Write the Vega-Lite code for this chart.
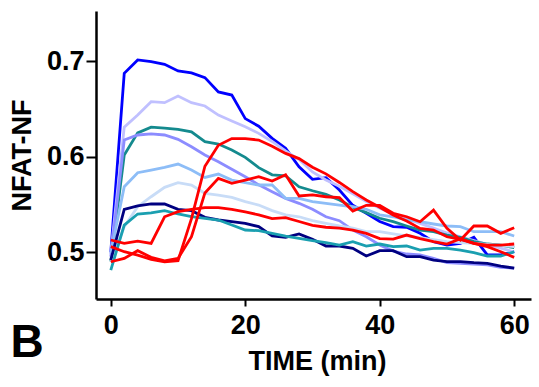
{
  "$schema": "https://vega.github.io/schema/vega-lite/v6.json",
  "autosize": "none",
  "width": 435,
  "height": 288,
  "padding": {"left": 96, "top": 11, "right": 8, "bottom": 88},
  "background": "white",
  "config": {"view": {"stroke": null}},
  "title": {"text": "B", "orient": "bottom", "anchor": "start", "font": "Liberation Sans", "fontSize": 46, "fontWeight": "bold", "color": "black", "dx": 2, "offset": -53},
  "data": {"values": [
{"s":"a1","t":0,"v":0.500},{"s":"a1","t":2,"v":0.6875},{"s":"a1","t":4,"v":0.7015},{"s":"a1","t":6,"v":0.6997},{"s":"a1","t":8,"v":0.697},{"s":"a1","t":10,"v":0.690},{"s":"a1","t":12,"v":0.688},{"s":"a1","t":14,"v":0.683},{"s":"a1","t":16,"v":0.668},{"s":"a1","t":18,"v":0.6647},{"s":"a1","t":20,"v":0.640},{"s":"a1","t":22,"v":0.632},{"s":"a1","t":24,"v":0.6193},{"s":"a1","t":26,"v":0.6088},{"s":"a1","t":28,"v":0.5895},{"s":"a1","t":30,"v":0.5763},{"s":"a1","t":32,"v":0.578},{"s":"a1","t":34,"v":0.565},{"s":"a1","t":36,"v":0.549},{"s":"a1","t":38,"v":0.5406},{"s":"a1","t":40,"v":0.532},{"s":"a1","t":42,"v":0.5266},{"s":"a1","t":44,"v":0.526},{"s":"a1","t":46,"v":0.5196},{"s":"a1","t":48,"v":0.5108},{"s":"a1","t":50,"v":0.5073},{"s":"a1","t":52,"v":0.509},{"s":"a1","t":54,"v":0.5154},{"s":"a1","t":56,"v":0.4969},{"s":"a1","t":58,"v":0.4969},{"s":"a1","t":60,"v":0.5003},
{"s":"a2","t":0,"v":0.498},{"s":"a2","t":2,"v":0.631},{"s":"a2","t":4,"v":0.6437},{"s":"a2","t":6,"v":0.6577},{"s":"a2","t":8,"v":0.6567},{"s":"a2","t":10,"v":0.6637},{"s":"a2","t":12,"v":0.6567},{"s":"a2","t":14,"v":0.6532},{"s":"a2","t":16,"v":0.6437},{"s":"a2","t":18,"v":0.6375},{"s":"a2","t":20,"v":0.6315},{"s":"a2","t":22,"v":0.6245},{"s":"a2","t":24,"v":0.616},{"s":"a2","t":26,"v":0.606},{"s":"a2","t":28,"v":0.597},{"s":"a2","t":30,"v":0.584},{"s":"a2","t":32,"v":0.5755},{"s":"a2","t":34,"v":0.569},{"s":"a2","t":36,"v":0.561},{"s":"a2","t":38,"v":0.553},{"s":"a2","t":40,"v":0.546},{"s":"a2","t":42,"v":0.540},{"s":"a2","t":44,"v":0.535},{"s":"a2","t":46,"v":0.530},{"s":"a2","t":48,"v":0.525},{"s":"a2","t":50,"v":0.520},{"s":"a2","t":52,"v":0.516},{"s":"a2","t":54,"v":0.512},{"s":"a2","t":56,"v":0.508},{"s":"a2","t":58,"v":0.504},{"s":"a2","t":60,"v":0.500},
{"s":"a3","t":0,"v":0.490},{"s":"a3","t":2,"v":0.6018},{"s":"a3","t":4,"v":0.625},{"s":"a3","t":6,"v":0.631},{"s":"a3","t":8,"v":0.630},{"s":"a3","t":10,"v":0.6287},{"s":"a3","t":12,"v":0.626},{"s":"a3","t":14,"v":0.6157},{"s":"a3","t":16,"v":0.6133},{"s":"a3","t":18,"v":0.607},{"s":"a3","t":20,"v":0.5993},{"s":"a3","t":22,"v":0.5885},{"s":"a3","t":24,"v":0.581},{"s":"a3","t":26,"v":0.580},{"s":"a3","t":28,"v":0.5685},{"s":"a3","t":30,"v":0.5643},{"s":"a3","t":32,"v":0.5605},{"s":"a3","t":34,"v":0.5546},{"s":"a3","t":36,"v":0.547},{"s":"a3","t":38,"v":0.5413},{"s":"a3","t":40,"v":0.5354},{"s":"a3","t":42,"v":0.5318},{"s":"a3","t":44,"v":0.5273},{"s":"a3","t":46,"v":0.523},{"s":"a3","t":48,"v":0.5213},{"s":"a3","t":50,"v":0.5178},{"s":"a3","t":52,"v":0.5154},{"s":"a3","t":54,"v":0.511},{"s":"a3","t":56,"v":0.5084},{"s":"a3","t":58,"v":0.5073},{"s":"a3","t":60,"v":0.5045},
{"s":"a4","t":0,"v":0.495},{"s":"a4","t":2,"v":0.6175},{"s":"a4","t":4,"v":0.6228},{"s":"a4","t":6,"v":0.624},{"s":"a4","t":8,"v":0.6228},{"s":"a4","t":10,"v":0.6182},{"s":"a4","t":12,"v":0.6105},{"s":"a4","t":14,"v":0.6018},{"s":"a4","t":16,"v":0.5948},{"s":"a4","t":18,"v":0.5868},{"s":"a4","t":20,"v":0.579},{"s":"a4","t":22,"v":0.5705},{"s":"a4","t":24,"v":0.5633},{"s":"a4","t":26,"v":0.5563},{"s":"a4","t":28,"v":0.5511},{"s":"a4","t":30,"v":0.5448},{"s":"a4","t":32,"v":0.5370},{"s":"a4","t":34,"v":0.5329},{"s":"a4","t":36,"v":0.523},{"s":"a4","t":38,"v":0.516},{"s":"a4","t":40,"v":0.5073},{"s":"a4","t":42,"v":0.501},{"s":"a4","t":44,"v":0.4979},{"s":"a4","t":46,"v":0.4969},{"s":"a4","t":48,"v":0.4933},{"s":"a4","t":50,"v":0.4888},{"s":"a4","t":52,"v":0.4881},{"s":"a4","t":54,"v":0.4874},{"s":"a4","t":56,"v":0.4864},{"s":"a4","t":58,"v":0.484},{"s":"a4","t":60,"v":0.483},
{"s":"a5","t":0,"v":0.499},{"s":"a5","t":2,"v":0.5685},{"s":"a5","t":4,"v":0.5832},{"s":"a5","t":6,"v":0.586},{"s":"a5","t":8,"v":0.5889},{"s":"a5","t":10,"v":0.5923},{"s":"a5","t":12,"v":0.586},{"s":"a5","t":14,"v":0.5783},{"s":"a5","t":16,"v":0.5818},{"s":"a5","t":18,"v":0.5755},{"s":"a5","t":20,"v":0.5727},{"s":"a5","t":22,"v":0.5703},{"s":"a5","t":24,"v":0.5703},{"s":"a5","t":26,"v":0.5563},{"s":"a5","t":28,"v":0.5563},{"s":"a5","t":30,"v":0.5528},{"s":"a5","t":32,"v":0.551},{"s":"a5","t":34,"v":0.5493},{"s":"a5","t":36,"v":0.5475},{"s":"a5","t":38,"v":0.5448},{"s":"a5","t":40,"v":0.539},{"s":"a5","t":42,"v":0.537},{"s":"a5","t":44,"v":0.5336},{"s":"a5","t":46,"v":0.5318},{"s":"a5","t":48,"v":0.5294},{"s":"a5","t":50,"v":0.5273},{"s":"a5","t":52,"v":0.5266},{"s":"a5","t":54,"v":0.5213},{"s":"a5","t":56,"v":0.5213},{"s":"a5","t":58,"v":0.5213},{"s":"a5","t":60,"v":0.5168},
{"s":"a6","t":0,"v":0.490},{"s":"a6","t":2,"v":0.5266},{"s":"a6","t":4,"v":0.5476},{"s":"a6","t":6,"v":0.558},{"s":"a6","t":8,"v":0.5679},{"s":"a6","t":10,"v":0.5727},{"s":"a6","t":12,"v":0.5703},{"s":"a6","t":14,"v":0.5616},{"s":"a6","t":16,"v":0.5598},{"s":"a6","t":18,"v":0.5574},{"s":"a6","t":20,"v":0.5528},{"s":"a6","t":22,"v":0.5493},{"s":"a6","t":24,"v":0.5434},{"s":"a6","t":26,"v":0.539},{"s":"a6","t":28,"v":0.537},{"s":"a6","t":30,"v":0.533},{"s":"a6","t":32,"v":0.530},{"s":"a6","t":34,"v":0.5273},{"s":"a6","t":36,"v":0.525},{"s":"a6","t":38,"v":0.5213},{"s":"a6","t":40,"v":0.5213},{"s":"a6","t":42,"v":0.519},{"s":"a6","t":44,"v":0.517},{"s":"a6","t":46,"v":0.515},{"s":"a6","t":48,"v":0.513},{"s":"a6","t":50,"v":0.511},{"s":"a6","t":52,"v":0.510},{"s":"a6","t":54,"v":0.509},{"s":"a6","t":56,"v":0.508},{"s":"a6","t":58,"v":0.507},{"s":"a6","t":60,"v":0.5056},
{"s":"a7","t":0,"v":0.4916},{"s":"a7","t":2,"v":0.5448},{"s":"a7","t":4,"v":0.5483},{"s":"a7","t":6,"v":0.5504},{"s":"a7","t":8,"v":0.5504},{"s":"a7","t":10,"v":0.5448},{"s":"a7","t":12,"v":0.5434},{"s":"a7","t":14,"v":0.5364},{"s":"a7","t":16,"v":0.5336},{"s":"a7","t":18,"v":0.532},{"s":"a7","t":20,"v":0.530},{"s":"a7","t":22,"v":0.5266},{"s":"a7","t":24,"v":0.5168},{"s":"a7","t":26,"v":0.5154},{"s":"a7","t":28,"v":0.5189},{"s":"a7","t":30,"v":0.5133},{"s":"a7","t":32,"v":0.5063},{"s":"a7","t":34,"v":0.5063},{"s":"a7","t":36,"v":0.5039},{"s":"a7","t":38,"v":0.4958},{"s":"a7","t":40,"v":0.5014},{"s":"a7","t":42,"v":0.5014},{"s":"a7","t":44,"v":0.4951},{"s":"a7","t":46,"v":0.4951},{"s":"a7","t":48,"v":0.4916},{"s":"a7","t":50,"v":0.490},{"s":"a7","t":52,"v":0.490},{"s":"a7","t":54,"v":0.4888},{"s":"a7","t":56,"v":0.4881},{"s":"a7","t":58,"v":0.4853},{"s":"a7","t":60,"v":0.483},
{"s":"a8","t":0,"v":0.481},{"s":"a8","t":2,"v":0.5283},{"s":"a8","t":4,"v":0.5399},{"s":"a8","t":6,"v":0.541},{"s":"a8","t":8,"v":0.5434},{"s":"a8","t":10,"v":0.5399},{"s":"a8","t":12,"v":0.5371},{"s":"a8","t":14,"v":0.5353},{"s":"a8","t":16,"v":0.5336},{"s":"a8","t":18,"v":0.5283},{"s":"a8","t":20,"v":0.5231},{"s":"a8","t":22,"v":0.5224},{"s":"a8","t":24,"v":0.5196},{"s":"a8","t":26,"v":0.5168},{"s":"a8","t":28,"v":0.5144},{"s":"a8","t":30,"v":0.5119},{"s":"a8","t":32,"v":0.5098},{"s":"a8","t":34,"v":0.5073},{"s":"a8","t":36,"v":0.5108},{"s":"a8","t":38,"v":0.5063},{"s":"a8","t":40,"v":0.5084},{"s":"a8","t":42,"v":0.5056},{"s":"a8","t":44,"v":0.5063},{"s":"a8","t":46,"v":0.502},{"s":"a8","t":48,"v":0.5038},{"s":"a8","t":50,"v":0.5038},{"s":"a8","t":52,"v":0.502},{"s":"a8","t":54,"v":0.4993},{"s":"a8","t":56,"v":0.4958},{"s":"a8","t":58,"v":0.4958},{"s":"a8","t":60,"v":0.5003},
{"s":"r1","t":0,"v":0.5126},{"s":"r1","t":2,"v":0.509},{"s":"r1","t":4,"v":0.5115},{"s":"r1","t":6,"v":0.509},{"s":"r1","t":8,"v":0.537},{"s":"r1","t":10,"v":0.5423},{"s":"r1","t":12,"v":0.5448},{"s":"r1","t":14,"v":0.5465},{"s":"r1","t":16,"v":0.5465},{"s":"r1","t":18,"v":0.5448},{"s":"r1","t":20,"v":0.542},{"s":"r1","t":22,"v":0.539},{"s":"r1","t":24,"v":0.535},{"s":"r1","t":26,"v":0.536},{"s":"r1","t":28,"v":0.532},{"s":"r1","t":30,"v":0.528},{"s":"r1","t":32,"v":0.526},{"s":"r1","t":34,"v":0.525},{"s":"r1","t":36,"v":0.523},{"s":"r1","t":38,"v":0.5196},{"s":"r1","t":40,"v":0.514},{"s":"r1","t":42,"v":0.5135},{"s":"r1","t":44,"v":0.5178},{"s":"r1","t":46,"v":0.514},{"s":"r1","t":48,"v":0.5108},{"s":"r1","t":50,"v":0.5084},{"s":"r1","t":52,"v":0.514},{"s":"r1","t":54,"v":0.509},{"s":"r1","t":56,"v":0.5073},{"s":"r1","t":58,"v":0.5073},{"s":"r1","t":60,"v":0.5084},
{"s":"r2","t":0,"v":0.5056},{"s":"r2","t":2,"v":0.5003},{"s":"r2","t":4,"v":0.4968},{"s":"r2","t":6,"v":0.4923},{"s":"r2","t":8,"v":0.4898},{"s":"r2","t":10,"v":0.4909},{"s":"r2","t":12,"v":0.535},{"s":"r2","t":14,"v":0.590},{"s":"r2","t":16,"v":0.612},{"s":"r2","t":18,"v":0.619},{"s":"r2","t":20,"v":0.619},{"s":"r2","t":22,"v":0.6175},{"s":"r2","t":24,"v":0.611},{"s":"r2","t":26,"v":0.6035},{"s":"r2","t":28,"v":0.598},{"s":"r2","t":30,"v":0.589},{"s":"r2","t":32,"v":0.582},{"s":"r2","t":34,"v":0.573},{"s":"r2","t":36,"v":0.5633},{"s":"r2","t":38,"v":0.5546},{"s":"r2","t":40,"v":0.547},{"s":"r2","t":42,"v":0.5388},{"s":"r2","t":44,"v":0.5325},{"s":"r2","t":46,"v":0.5248},{"s":"r2","t":48,"v":0.523},{"s":"r2","t":50,"v":0.516},{"s":"r2","t":52,"v":0.5133},{"s":"r2","t":54,"v":0.509},{"s":"r2","t":56,"v":0.5056},{"s":"r2","t":58,"v":0.5003},{"s":"r2","t":60,"v":0.4944},
{"s":"r3","t":0,"v":0.4898},{"s":"r3","t":2,"v":0.4933},{"s":"r3","t":4,"v":0.5014},{"s":"r3","t":6,"v":0.4944},{"s":"r3","t":8,"v":0.4906},{"s":"r3","t":10,"v":0.4933},{"s":"r3","t":12,"v":0.516},{"s":"r3","t":14,"v":0.562},{"s":"r3","t":16,"v":0.5773},{"s":"r3","t":18,"v":0.572},{"s":"r3","t":20,"v":0.5755},{"s":"r3","t":22,"v":0.579},{"s":"r3","t":24,"v":0.5745},{"s":"r3","t":26,"v":0.581},{"s":"r3","t":28,"v":0.5588},{"s":"r3","t":30,"v":0.560},{"s":"r3","t":32,"v":0.558},{"s":"r3","t":34,"v":0.557},{"s":"r3","t":36,"v":0.543},{"s":"r3","t":38,"v":0.549},{"s":"r3","t":40,"v":0.549},{"s":"r3","t":42,"v":0.5406},{"s":"r3","t":44,"v":0.537},{"s":"r3","t":46,"v":0.5318},{"s":"r3","t":48,"v":0.544},{"s":"r3","t":50,"v":0.5248},{"s":"r3","t":52,"v":0.5126},{"s":"r3","t":54,"v":0.5273},{"s":"r3","t":56,"v":0.5273},{"s":"r3","t":58,"v":0.5196},{"s":"r3","t":60,"v":0.5255}
  ]},
  "mark": {"type": "line", "strokeWidth": 2.8},
  "encoding": {
    "x": {"field": "t", "type": "quantitative",
      "scale": {"domain": [-2.2, 62.5], "nice": false, "zero": false},
      "axis": {"title": "TIME (min)", "values": [0, 20, 40, 60], "grid": false,
        "domainColor": "black", "domainWidth": 2.5, "tickColor": "black", "tickWidth": 2, "tickSize": 7,
        "labelFont": "Liberation Sans", "labelFontSize": 27, "labelFontWeight": "bold", "labelColor": "black", "labelPadding": 6, "labelFlush": false,
        "titleFont": "Liberation Sans", "titleFontSize": 27, "titleFontWeight": "bold", "titleColor": "black", "titlePadding": 10, "titleX": 221}},
    "y": {"field": "v", "type": "quantitative",
      "scale": {"domain": [0.4507, 0.7529], "nice": false, "zero": false},
      "axis": {"title": "NFAT-NF", "values": [0.5, 0.6, 0.7], "format": ".1f", "grid": false,
        "domainColor": "black", "domainWidth": 2.5, "tickColor": "black", "tickWidth": 2, "tickSize": 10,
        "labelFont": "Liberation Sans", "labelFontSize": 27, "labelFontWeight": "bold", "labelColor": "black", "labelPadding": 2, "labelFlush": false,
        "titleFont": "Liberation Sans", "titleFontSize": 27, "titleFontWeight": "bold", "titleColor": "black", "titlePadding": 10}},
    "color": {"field": "s", "type": "nominal", "legend": null,
      "scale": {"domain": ["a1","a2","a3","a4","a5","a6","a7","a8","r1","r2","r3"],
        "range": ["#0000ff","#c0c0ff","#148a8e","#8c8cff","#8dbdf7","#c8dcf7","#000080","#1a9fb0","#ff0000","#ff0000","#ff0000"]}}
  }
}
